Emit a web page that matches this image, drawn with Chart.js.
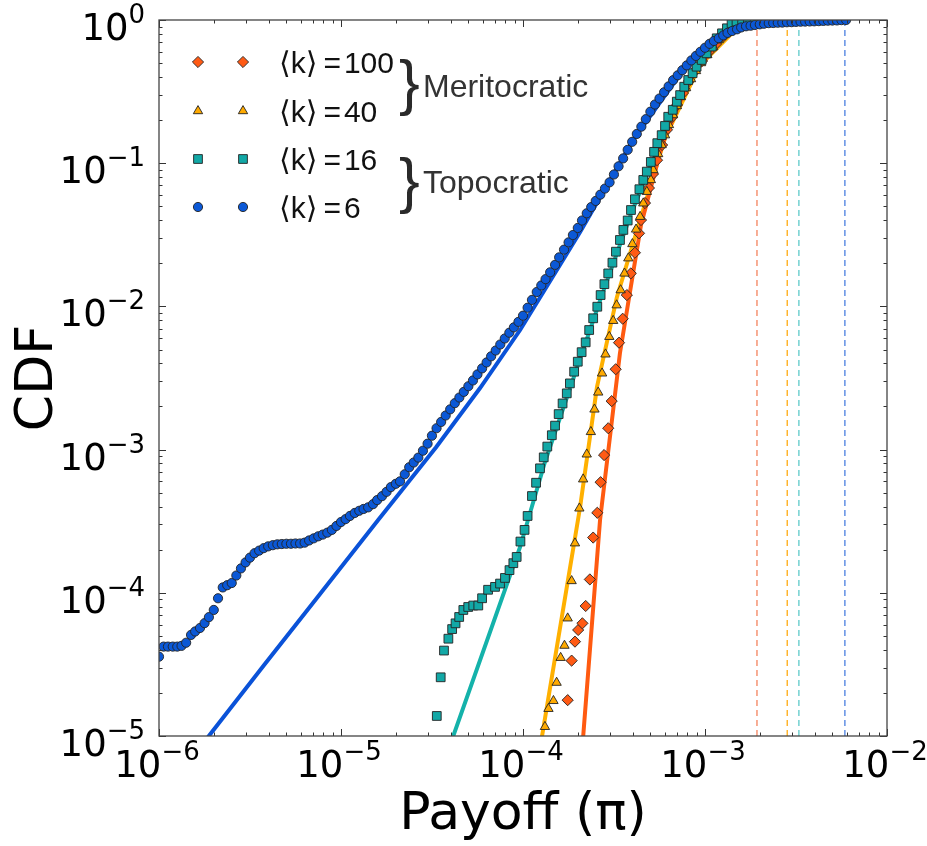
<!DOCTYPE html>
<html>
<head>
<meta charset="utf-8">
<script src="https://cdn.jsdelivr.net/npm/chart.js@4.4.1/dist/chart.umd.min.js"></script>
<style>
  html, body { margin: 0; padding: 0; background: #fff; }
  canvas { display: block; }
</style>
</head>
<body>
<canvas id="cdfChart" width="927" height="846"></canvas>
<script>
// axis decades (tick labels are 10^exp)
const xTickExps = [-6, -5, -4, -3, -2];
const yTickExps = [-5, -4, -3, -2, -1, 0];

// mean degree of each network, legend order
const degrees = [100, 40, 16, 6];
const groupLabels = ['Meritocratic', 'Topocratic'];

// largest payoff reached in each network (dashed verticals)
const maxPayoffs = [1.93e-3, 2.83e-3, 3.28e-3, 5.87e-3];

// <k>=6 simulated CDF
const k6Payoff = [
  1.00e-6,1.06e-6,1.12e-6,1.19e-6,1.26e-6,1.33e-6,1.41e-6,1.50e-6,1.58e-6,1.68e-6,
  1.78e-6,1.88e-6,2.00e-6,2.11e-6,2.24e-6,2.37e-6,2.51e-6,2.66e-6,2.82e-6,2.99e-6,
  3.16e-6,3.35e-6,3.55e-6,3.76e-6,3.98e-6,4.22e-6,4.47e-6,4.73e-6,5.01e-6,5.31e-6,
  5.62e-6,5.96e-6,6.31e-6,6.68e-6,7.08e-6,7.50e-6,7.94e-6,8.41e-6,8.91e-6,9.44e-6,
  1.00e-5,1.06e-5,1.12e-5,1.19e-5,1.26e-5,1.33e-5,1.41e-5,1.50e-5,1.58e-5,1.68e-5,
  1.78e-5,1.88e-5,2.00e-5,2.11e-5,2.24e-5,2.37e-5,2.51e-5,2.66e-5,2.82e-5,2.99e-5,
  3.16e-5,3.35e-5,3.55e-5,3.76e-5,3.98e-5,4.22e-5,4.47e-5,4.73e-5,5.01e-5,5.31e-5,
  5.62e-5,5.96e-5,6.31e-5,6.68e-5,7.08e-5,7.50e-5,7.94e-5,8.41e-5,8.91e-5,9.44e-5,
  1.00e-4,1.06e-4,1.12e-4,1.19e-4,1.26e-4,1.33e-4,1.41e-4,1.50e-4,1.58e-4,1.68e-4,
  1.78e-4,1.88e-4,2.00e-4,2.11e-4,2.24e-4,2.37e-4,2.51e-4,2.66e-4,2.82e-4,2.99e-4,
  3.16e-4,3.35e-4,3.55e-4,3.76e-4,3.98e-4,4.22e-4,4.47e-4,4.73e-4,5.01e-4,5.31e-4,
  5.62e-4,5.96e-4,6.31e-4,6.68e-4,7.08e-4,7.50e-4,7.94e-4,8.41e-4,8.91e-4,9.44e-4,
  1.00e-3,1.06e-3,1.12e-3,1.19e-3,1.26e-3,1.33e-3,1.41e-3,1.50e-3,1.58e-3,1.68e-3,
  1.78e-3,1.88e-3,2.00e-3,2.11e-3,2.24e-3,2.37e-3,2.51e-3,2.66e-3,2.82e-3,2.99e-3,
  3.16e-3,3.35e-3,3.55e-3,3.76e-3,3.98e-3,4.22e-3,4.47e-3,4.73e-3,5.01e-3,5.31e-3,
  5.62e-3,5.96e-3
];
const k6Cdf = [
  3.58e-5,4.21e-5,4.21e-5,4.21e-5,4.21e-5,4.26e-5,4.48e-5,5.08e-5,5.37e-5,5.68e-5,
  6.14e-5,6.76e-5,7.59e-5,9.16e-5,1.09e-4,1.13e-4,1.17e-4,1.32e-4,1.48e-4,1.63e-4,
  1.76e-4,1.89e-4,1.97e-4,2.05e-4,2.11e-4,2.15e-4,2.18e-4,2.19e-4,2.20e-4,2.20e-4,
  2.21e-4,2.21e-4,2.24e-4,2.32e-4,2.40e-4,2.48e-4,2.55e-4,2.63e-4,2.75e-4,2.93e-4,
  3.12e-4,3.27e-4,3.44e-4,3.61e-4,3.74e-4,3.85e-4,3.95e-4,4.16e-4,4.44e-4,4.73e-4,
  5.07e-4,5.47e-4,5.77e-4,6.00e-4,6.73e-4,7.53e-4,8.13e-4,8.79e-4,9.82e-4,1.10e-3,
  1.25e-3,1.41e-3,1.56e-3,1.73e-3,1.91e-3,2.11e-3,2.31e-3,2.53e-3,2.77e-3,3.04e-3,
  3.35e-3,3.69e-3,4.06e-3,4.48e-3,4.92e-3,5.42e-3,5.97e-3,6.55e-3,7.14e-3,7.80e-3,
  8.61e-3,9.79e-3,1.11e-2,1.26e-2,1.40e-2,1.55e-2,1.73e-2,1.95e-2,2.20e-2,2.49e-2,
  2.80e-2,3.15e-2,3.53e-2,3.98e-2,4.47e-2,4.94e-2,5.45e-2,6.03e-2,6.65e-2,7.35e-2,
  8.34e-2,9.51e-2,0.108,0.124,0.141,0.160,0.180,0.203,0.229,0.257,
  0.283,0.313,0.344,0.380,0.411,0.446,0.482,0.522,0.561,0.600,
  0.640,0.682,0.714,0.746,0.780,0.813,0.838,0.861,0.887,0.904,
  0.912,0.923,0.933,0.942,0.951,0.953,0.957,0.959,0.964,0.966,
  0.970,0.973,0.975,0.977,0.979,0.982,0.986,0.989,0.991,0.993,
  0.998,1.0
];

// <k>=16 simulated CDF
const k16Payoff = [
  3.36e-5,3.53e-5,3.68e-5,3.89e-5,4.08e-5,4.26e-5,4.46e-5,4.70e-5,5.00e-5,5.33e-5,
  5.68e-5,5.96e-5,6.43e-5,7.02e-5,7.48e-5,7.96e-5,8.43e-5,8.85e-5,9.23e-5,9.68e-5,
  1.02e-4,1.06e-4,1.12e-4,1.18e-4,1.24e-4,1.30e-4,1.36e-4,1.44e-4,1.50e-4,1.57e-4,
  1.65e-4,1.74e-4,1.81e-4,1.91e-4,2.00e-4,2.10e-4,2.21e-4,2.31e-4,2.43e-4,2.56e-4,
  2.67e-4,2.80e-4,2.94e-4,3.10e-4,3.24e-4,3.41e-4,3.56e-4,3.76e-4,3.92e-4,4.12e-4,
  4.36e-4,4.58e-4,4.79e-4,5.04e-4,5.25e-4,5.47e-4,5.78e-4,6.03e-4,6.28e-4,6.65e-4,
  7.00e-4,7.30e-4,7.69e-4,8.09e-4,8.55e-4,8.99e-4,9.59e-4,1.02e-3,1.09e-3,1.16e-3,
  1.24e-3,1.32e-3,1.40e-3,1.49e-3,1.60e-3,1.72e-3,1.88e-3,2.06e-3,2.28e-3,2.52e-3,
  2.79e-3,3.08e-3,3.28e-3
];
const k16Cdf = [
  1.38e-5,2.57e-5,3.95e-5,4.78e-5,5.58e-5,6.12e-5,6.78e-5,7.59e-5,7.96e-5,8.15e-5,
  8.15e-5,9.16e-5,1.05e-4,1.10e-4,1.16e-4,1.27e-4,1.44e-4,1.61e-4,1.78e-4,2.28e-4,
  2.75e-4,3.44e-4,4.74e-4,5.87e-4,7.40e-4,8.83e-4,1.05e-3,1.26e-3,1.47e-3,1.77e-3,
  2.10e-3,2.47e-3,2.90e-3,3.50e-3,4.11e-3,4.79e-3,5.61e-3,6.84e-3,8.26e-3,9.95e-3,
  1.20e-2,1.43e-2,1.70e-2,2.02e-2,2.41e-2,2.91e-2,3.42e-2,3.98e-2,4.71e-2,5.60e-2,
  6.58e-2,7.64e-2,8.73e-2,0.102,0.120,0.138,0.157,0.182,0.211,0.236,
  0.269,0.299,0.342,0.381,0.425,0.472,0.526,0.585,0.652,0.745,
  0.807,0.875,0.948,0.977,0.986,0.991,0.995,0.998,0.999,1.0,
  1.0,1.0,1.0
];

// <k>=40 simulated CDF
const k40Payoff = [
  1.32e-4,1.38e-4,1.47e-4,1.53e-4,1.61e-4,1.69e-4,1.76e-4,1.85e-4,1.93e-4,2.04e-4,
  2.14e-4,2.24e-4,2.36e-4,2.47e-4,2.59e-4,2.72e-4,2.84e-4,2.98e-4,3.13e-4,3.27e-4,
  3.44e-4,3.61e-4,3.79e-4,3.99e-4,4.18e-4,4.40e-4,4.58e-4,4.79e-4,5.04e-4,5.20e-4,
  5.53e-4,5.78e-4,6.03e-4,6.34e-4,6.67e-4,7.01e-4,7.38e-4,7.87e-4,8.38e-4,8.93e-4,
  9.51e-4,1.03e-3,1.11e-3,1.19e-3,1.30e-3,1.43e-3,1.56e-3,1.72e-3,1.91e-3,2.11e-3,
  2.33e-3,2.58e-3,2.83e-3
];
const k40Cdf = [
  1.16e-5,1.55e-5,1.76e-5,2.36e-5,3.52e-5,4.28e-5,6.64e-5,1.21e-4,2.22e-4,3.89e-4,
  6.21e-4,9.27e-4,1.33e-3,1.91e-3,2.51e-3,3.41e-3,4.63e-3,6.14e-3,7.94e-3,1.02e-2,
  1.30e-2,1.70e-2,2.17e-2,2.73e-2,3.45e-2,4.23e-2,5.25e-2,6.32e-2,7.64e-2,8.97e-2,
  0.116,0.134,0.157,0.185,0.217,0.251,0.290,0.335,0.387,0.441,
  0.501,0.570,0.647,0.725,0.811,0.879,0.938,0.976,0.990,0.997,
  1.0,1.0,1.0
];

// <k>=100 simulated CDF
const k100Payoff = [
  1.76e-4,1.85e-4,1.93e-4,2.01e-4,2.12e-4,2.21e-4,2.33e-4,2.43e-4,2.56e-4,2.67e-4,
  2.79e-4,2.94e-4,3.07e-4,3.23e-4,3.37e-4,3.53e-4,3.72e-4,3.91e-4,4.12e-4,4.34e-4,
  4.45e-4,4.68e-4,4.92e-4,5.18e-4,5.45e-4,5.81e-4,6.18e-4,6.59e-4,7.02e-4,7.57e-4,
  8.17e-4,8.81e-4,9.63e-4,1.05e-3,1.15e-3,1.27e-3,1.43e-3,1.60e-3,1.77e-3,1.93e-3
];
const k100Cdf = [
  1.78e-5,3.36e-5,4.56e-5,5.50e-5,6.12e-5,8.09e-5,1.24e-4,2.43e-4,3.62e-4,5.92e-4,
  9.16e-4,1.41e-3,2.18e-3,3.64e-3,5.58e-3,8.20e-3,1.20e-2,1.70e-2,2.37e-2,3.24e-2,
  4.01e-2,5.27e-2,6.71e-2,8.41e-2,0.105,0.134,0.171,0.210,0.255,0.309,
  0.375,0.441,0.517,0.598,0.680,0.773,0.865,0.938,0.976,1.0
];

// theoretical curves (solid lines)
const k6FitPayoff = [1.86e-6, 3.78e-6, 7.67e-6, 1.60e-5, 3.33e-5, 5.81e-5, 9.64e-5, 1.50e-4, 2.06e-4, 4.02e-4, 8.28e-4, 1.56e-3, 3.33e-3, 5.96e-3];
const k6FitCdf = [9.84e-6, 3.13e-5, 9.82e-5, 3.22e-4, 1.04e-3, 2.69e-3, 6.84e-3, 1.71e-2, 3.31e-2, 0.145, 0.52, 0.89, 0.968, 1.0];
const k16FitPayoff = [4.12e-5, 9.64e-5, 1.32e-4, 1.84e-4, 2.69e-4, 3.92e-4, 5.81e-4, 8.49e-4, 1.37e-3, 2.28e-3];
const k16FitCdf = [9.84e-6, 2.09e-4, 8.19e-4, 2.83e-3, 1.16e-2, 4.42e-2, 0.150, 0.406, 0.908, 0.997];
const k40FitPayoff = [1.27e-4, 2.06e-4, 2.55e-4, 3.28e-4, 4.40e-4, 6.03e-4, 9.40e-4, 1.56e-3, 2.83e-3];
const k40FitCdf = [9.84e-6, 3.97e-4, 2.74e-3, 1.16e-2, 4.01e-2, 0.150, 0.485, 0.923, 1.0];
const k100FitPayoff = [2.14e-4, 2.65e-4, 3.41e-4, 4.45e-4, 5.81e-4, 8.17e-4, 1.15e-3, 1.60e-3, 1.93e-3];
const k100FitCdf = [9.84e-6, 3.22e-4, 4.73e-3, 3.70e-2, 0.134, 0.375, 0.680, 0.938, 1.0];

// styles, legend order (100, 40, 16, 6)
const markerColors = ['#ff5a14', '#ffaa00', '#12a8a6', '#0b58d6'];
const lineColors = ['#ff5a10', '#ffb000', '#14b2aa', '#0a52d8'];
const dashColors = ['#f4835e', '#ffaa10', '#5ccaca', '#4a7fe0'];
const markerStyles = ['rectRot', 'triangle', 'rect', 'circle'];
const markerRadii = [5.6, 5.4, 6.2, 4.6];

const pts = (xs, ys) => xs.map((x, i) => ({ x: x, y: ys[i] }));

const sims = [pts(k100Payoff, k100Cdf), pts(k40Payoff, k40Cdf), pts(k16Payoff, k16Cdf), pts(k6Payoff, k6Cdf)];
const fits = [pts(k100FitPayoff, k100FitCdf), pts(k40FitPayoff, k40FitCdf), pts(k16FitPayoff, k16FitCdf), pts(k6FitPayoff, k6FitCdf)];

const datasets = [];
// markers: <k>=6 drawn on top, lower order = drawn later
sims.forEach((data, i) => {
  datasets.push({
    label: 'k=' + degrees[i],
    data: data,
    showLine: false,
    pointStyle: markerStyles[i],
    pointRadius: markerRadii[i],
    pointBackgroundColor: markerColors[i],
    pointBorderColor: '#222',
    pointBorderWidth: 0.9,
    clip: 0,
    order: 3 - i
  });
});
fits.forEach((data, i) => {
  datasets.push({
    label: 'fit ' + degrees[i],
    data: data,
    showLine: true,
    borderColor: lineColors[i],
    borderWidth: 4,
    pointRadius: 0,
    tension: 0,
    clip: 0,
    order: 10 + i
  });
});
maxPayoffs.forEach((v, i) => {
  datasets.push({
    label: 'max ' + degrees[i],
    data: [{ x: v, y: 1e-5 }, { x: v, y: 1 }],
    showLine: true,
    borderColor: dashColors[i],
    borderWidth: 1.3,
    borderDash: [6, 4],
    pointRadius: 0,
    clip: 0,
    order: 20 + i
  });
});

function powLabel(ctx, exp, x, y, align) {
  const base = '10';
  const sup = exp < 0 ? '\u2212' + (-exp) : String(exp);
  ctx.font = '37px "DejaVu Sans"';
  const w1 = ctx.measureText(base).width;
  ctx.font = '26px "DejaVu Sans"';
  const w2 = ctx.measureText(sup).width;
  const start = align === 'right' ? x - w1 - w2 : x - (w1 + w2) / 2;
  ctx.textAlign = 'left';
  ctx.font = '37px "DejaVu Sans"';
  ctx.fillText(base, start, y);
  ctx.font = '26px "DejaVu Sans"';
  ctx.fillText(sup, start + w1, y - 17);
}

const frame = {
  id: 'frame',
  afterDatasetsDraw(chart) {
    const { ctx, chartArea: a, scales: { x, y } } = chart;
    ctx.save();
    ctx.strokeStyle = '#333';
    ctx.lineWidth = 1;
    ctx.beginPath();
    xTickExps.forEach(e => {
      for (let m = 1; m <= 9; m++) {
        if (e === xTickExps[xTickExps.length - 1] && m > 1) break;
        const px = Math.round(x.getPixelForValue(m * Math.pow(10, e))) + 0.5;
        const len = m === 1 ? 7 : 3.5;
        ctx.moveTo(px, a.bottom); ctx.lineTo(px, a.bottom - len);
        ctx.moveTo(px, a.top); ctx.lineTo(px, a.top + len);
      }
    });
    yTickExps.forEach(e => {
      for (let m = 1; m <= 9; m++) {
        if (e === yTickExps[yTickExps.length - 1] && m > 1) break;
        const py = Math.round(y.getPixelForValue(m * Math.pow(10, e))) + 0.5;
        const len = m === 1 ? 7 : 3.5;
        ctx.moveTo(a.left, py); ctx.lineTo(a.left + len, py);
        ctx.moveTo(a.right, py); ctx.lineTo(a.right - len, py);
      }
    });
    ctx.stroke();
    ctx.strokeStyle = '#444';
    ctx.lineWidth = 1.3;
    ctx.strokeRect(a.left, a.top, a.right - a.left, a.bottom - a.top);
    ctx.restore();
  },
  afterDraw(chart) {
    const { ctx, chartArea: a, scales: { x, y } } = chart;
    const h = Chart.helpers;
    ctx.save();
    ctx.fillStyle = '#000';
    ctx.textBaseline = 'alphabetic';
    xTickExps.forEach(e => powLabel(ctx, e, x.getPixelForValue(Math.pow(10, e)) - 2, 777, 'center'));
    yTickExps.forEach(e => powLabel(ctx, e, 145, y.getPixelForValue(Math.pow(10, e)) + 20, 'right'));

    // axis titles
    ctx.font = '52px "DejaVu Sans"';
    ctx.textAlign = 'center';
    ctx.fillText('Payoff (\u03c0)', (a.left + a.right) / 2, 829);
    ctx.save();
    ctx.translate(52, (a.top + a.bottom) / 2);
    ctx.rotate(-Math.PI / 2);
    ctx.fillText('CDF', 0, 0);
    ctx.restore();

    // legend, two markers per entry
    const rowY = [62, 111, 159, 207];
    degrees.forEach((d, i) => {
      ctx.fillStyle = markerColors[i];
      ctx.strokeStyle = '#222';
      ctx.lineWidth = 0.9;
      [198, 243].forEach(mx => {
        h.drawPoint(ctx, { pointStyle: markerStyles[i], radius: markerRadii[i], borderWidth: 0.9, rotation: 0 }, mx, rowY[i]);
      });
      ctx.fillStyle = '#111';
      ctx.textAlign = 'left';
      ctx.font = '30px "Liberation Sans", "DejaVu Sans"';
      let tx = 279;
      const by = rowY[i] + 11;
      ctx.fillText('\u27e8k\u27e9', tx, by);
      tx += ctx.measureText('\u27e8k\u27e9').width + 6;
      ctx.fillText('=', tx, by);
      tx += ctx.measureText('=').width + 3;
      ctx.fillText(String(d), tx, by);
    });

    // group braces and names
    ctx.fillStyle = '#2a2a2a';
    ctx.font = '62px "Liberation Sans"';
    ctx.fillText('}', 399, 103);
    ctx.fillText('}', 399, 201);
    ctx.fillStyle = '#333';
    ctx.font = '32px "Liberation Sans"';
    ctx.fillText(groupLabels[0], 423, 97);
    ctx.fillText(groupLabels[1], 423, 193);
    ctx.restore();
  }
};

new Chart(document.getElementById('cdfChart'), {
  type: 'scatter',
  data: { datasets: datasets },
  options: {
    responsive: false,
    animation: false,
    layout: { padding: { left: 159, right: 40, top: 20, bottom: 110 } },
    scales: {
      x: { type: 'logarithmic', min: 1e-6, max: 1e-2, display: false },
      y: { type: 'logarithmic', min: 1e-5, max: 1, display: false }
    },
    plugins: {
      legend: { display: false },
      tooltip: { enabled: false }
    }
  },
  plugins: [frame]
});
</script>
</body>
</html>
